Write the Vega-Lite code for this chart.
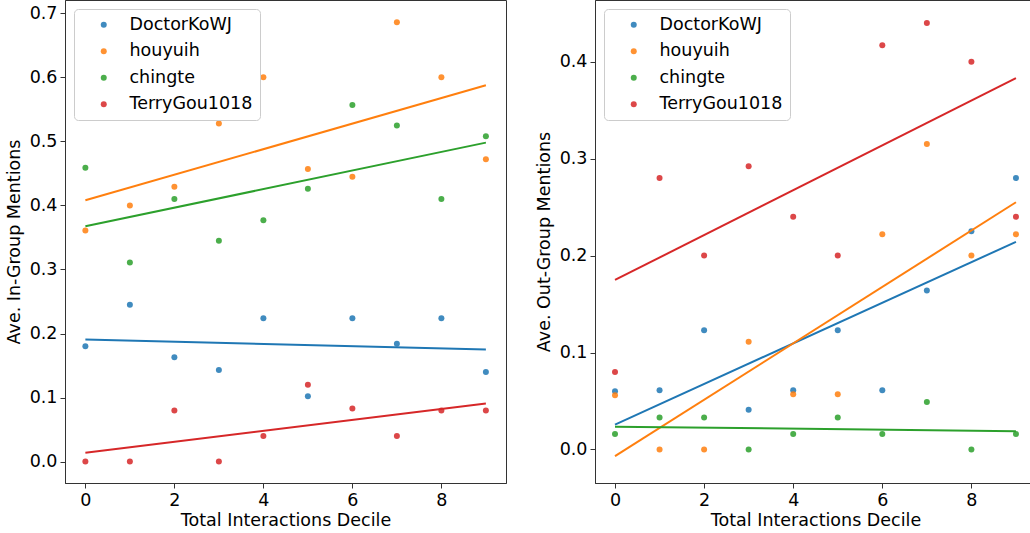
{
  "$schema": "https://vega.github.io/schema/vega-lite/v6.json",
  "padding": {"left": 4, "top": -1, "right": -6, "bottom": 0},
  "config": {
    "font": "DejaVu Sans",
    "view": {"stroke": "#333", "strokeWidth": 1},
    "axis": {"grid": false, "labelFontSize": 17.5, "titleFontSize": 17.5, "labelColor": "#000", "titleColor": "#000", "titleFontWeight": "normal", "domainColor": "#333", "tickColor": "#333", "tickSize": 5, "labelPadding": 3},
    "axisY": {"titlePadding": 6},
    "axisX": {"titlePadding": 3},
    "legend": {"orient": "top-left", "offset": 9, "title": null, "labelFontSize": 17.5, "labelColor": "#000", "strokeColor": "#cccccc", "fillColor": "rgba(255,255,255,0.8)", "cornerRadius": 4, "padding": 7, "rowPadding": 7.5, "symbolOffset": 14, "labelOffset": 17, "symbolSize": 36, "symbolType": "circle", "symbolStrokeWidth": 0},
    "concat": {"spacing": 27}
  },
  "data": {"values": [
    {"user": "DoctorKoWJ", "decile": 0, "ingroup": 0.180, "outgroup": 0.060},
    {"user": "DoctorKoWJ", "decile": 1, "ingroup": 0.245, "outgroup": 0.061},
    {"user": "DoctorKoWJ", "decile": 2, "ingroup": 0.163, "outgroup": 0.123},
    {"user": "DoctorKoWJ", "decile": 3, "ingroup": 0.143, "outgroup": 0.041},
    {"user": "DoctorKoWJ", "decile": 4, "ingroup": 0.224, "outgroup": 0.061},
    {"user": "DoctorKoWJ", "decile": 5, "ingroup": 0.102, "outgroup": 0.123},
    {"user": "DoctorKoWJ", "decile": 6, "ingroup": 0.224, "outgroup": 0.061},
    {"user": "DoctorKoWJ", "decile": 7, "ingroup": 0.184, "outgroup": 0.164},
    {"user": "DoctorKoWJ", "decile": 8, "ingroup": 0.224, "outgroup": 0.225},
    {"user": "DoctorKoWJ", "decile": 9, "ingroup": 0.140, "outgroup": 0.280},
    {"user": "houyuih", "decile": 0, "ingroup": 0.361, "outgroup": 0.056},
    {"user": "houyuih", "decile": 1, "ingroup": 0.400, "outgroup": 0.000},
    {"user": "houyuih", "decile": 2, "ingroup": 0.429, "outgroup": 0.000},
    {"user": "houyuih", "decile": 3, "ingroup": 0.528, "outgroup": 0.111},
    {"user": "houyuih", "decile": 4, "ingroup": 0.600, "outgroup": 0.057},
    {"user": "houyuih", "decile": 5, "ingroup": 0.457, "outgroup": 0.057},
    {"user": "houyuih", "decile": 6, "ingroup": 0.445, "outgroup": 0.222},
    {"user": "houyuih", "decile": 7, "ingroup": 0.686, "outgroup": 0.315},
    {"user": "houyuih", "decile": 8, "ingroup": 0.600, "outgroup": 0.200},
    {"user": "houyuih", "decile": 9, "ingroup": 0.472, "outgroup": 0.222},
    {"user": "chingte", "decile": 0, "ingroup": 0.459, "outgroup": 0.016},
    {"user": "chingte", "decile": 1, "ingroup": 0.311, "outgroup": 0.033},
    {"user": "chingte", "decile": 2, "ingroup": 0.410, "outgroup": 0.033},
    {"user": "chingte", "decile": 3, "ingroup": 0.345, "outgroup": 0.000},
    {"user": "chingte", "decile": 4, "ingroup": 0.377, "outgroup": 0.016},
    {"user": "chingte", "decile": 5, "ingroup": 0.426, "outgroup": 0.033},
    {"user": "chingte", "decile": 6, "ingroup": 0.557, "outgroup": 0.016},
    {"user": "chingte", "decile": 7, "ingroup": 0.525, "outgroup": 0.049},
    {"user": "chingte", "decile": 8, "ingroup": 0.410, "outgroup": 0.000},
    {"user": "chingte", "decile": 9, "ingroup": 0.508, "outgroup": 0.016},
    {"user": "TerryGou1018", "decile": 0, "ingroup": 0.000, "outgroup": 0.080},
    {"user": "TerryGou1018", "decile": 1, "ingroup": 0.000, "outgroup": 0.280},
    {"user": "TerryGou1018", "decile": 2, "ingroup": 0.080, "outgroup": 0.200},
    {"user": "TerryGou1018", "decile": 3, "ingroup": 0.000, "outgroup": 0.292},
    {"user": "TerryGou1018", "decile": 4, "ingroup": 0.040, "outgroup": 0.240},
    {"user": "TerryGou1018", "decile": 5, "ingroup": 0.120, "outgroup": 0.200},
    {"user": "TerryGou1018", "decile": 6, "ingroup": 0.083, "outgroup": 0.417},
    {"user": "TerryGou1018", "decile": 7, "ingroup": 0.040, "outgroup": 0.440},
    {"user": "TerryGou1018", "decile": 8, "ingroup": 0.080, "outgroup": 0.400},
    {"user": "TerryGou1018", "decile": 9, "ingroup": 0.080, "outgroup": 0.240}
  ]},
  "resolve": {"scale": {"color": "independent"}, "legend": {"color": "independent"}},
  "hconcat": [
    {
      "width": 441,
      "height": 483,
      "layer": [
        {
          "mark": {"type": "circle", "size": 36, "opacity": 0.85},
          "encoding": {
            "x": {"field": "decile", "type": "quantitative", "title": "Total Interactions Decile", "scale": {"domain": [-0.458, 9.452], "nice": false, "zero": false}, "axis": {"values": [0, 2, 4, 6, 8]}},
            "y": {"field": "ingroup", "type": "quantitative", "title": "Ave. In-Group Mentions", "scale": {"domain": [-0.0334, 0.7208], "nice": false, "zero": false}, "axis": {"values": [0, 0.1, 0.2, 0.3, 0.4, 0.5, 0.6, 0.7], "format": ".1f"}},
            "color": {"field": "user", "type": "nominal", "scale": {"domain": ["DoctorKoWJ", "houyuih", "chingte", "TerryGou1018"], "range": ["#1f77b4", "#ff7f0e", "#2ca02c", "#d62728"]}, "legend": {}}
          }
        },
        {
          "transform": [{"regression": "ingroup", "on": "decile", "groupby": ["user"], "extent": [0, 9]}],
          "mark": {"type": "line", "strokeWidth": 2},
          "encoding": {
            "x": {"field": "decile", "type": "quantitative"},
            "y": {"field": "ingroup", "type": "quantitative"},
            "color": {"field": "user", "type": "nominal", "legend": null}
          }
        }
      ]
    },
    {
      "width": 441,
      "height": 483,
      "layer": [
        {
          "mark": {"type": "circle", "size": 36, "opacity": 0.85},
          "encoding": {
            "x": {"field": "decile", "type": "quantitative", "title": "Total Interactions Decile", "scale": {"domain": [-0.449, 9.45], "nice": false, "zero": false}, "axis": {"values": [0, 2, 4, 6, 8]}},
            "y": {"field": "outgroup", "type": "quantitative", "title": "Ave. Out-Group Mentions", "scale": {"domain": [-0.0346, 0.4636], "nice": false, "zero": false}, "axis": {"values": [0, 0.1, 0.2, 0.3, 0.4], "format": ".1f"}},
            "color": {"field": "user", "type": "nominal", "scale": {"domain": ["DoctorKoWJ", "houyuih", "chingte", "TerryGou1018"], "range": ["#1f77b4", "#ff7f0e", "#2ca02c", "#d62728"]}, "legend": {}}
          }
        },
        {
          "transform": [{"regression": "outgroup", "on": "decile", "groupby": ["user"], "extent": [0, 9]}],
          "mark": {"type": "line", "strokeWidth": 2},
          "encoding": {
            "x": {"field": "decile", "type": "quantitative"},
            "y": {"field": "outgroup", "type": "quantitative"},
            "color": {"field": "user", "type": "nominal", "legend": null}
          }
        }
      ]
    }
  ]
}
